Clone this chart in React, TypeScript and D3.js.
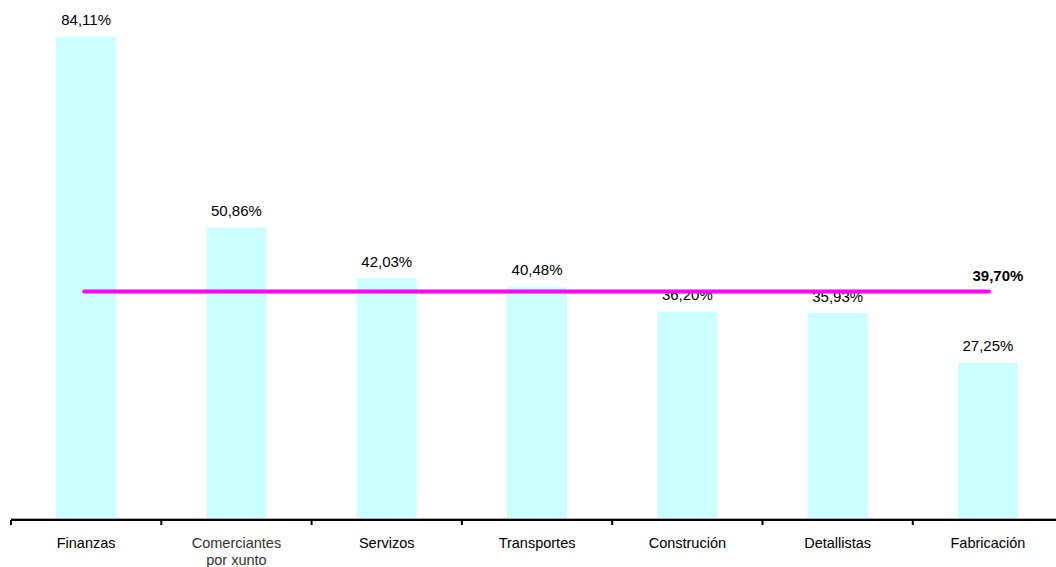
import React from "react";
import * as d3 from "d3";

const categories = ["Finanzas", "Comerciantes\npor xunto", "Servizos", "Transportes", "Construción", "Detallistas", "Fabricación"];
const values = [84.11, 50.86, 42.03, 40.48, 36.2, 35.93, 27.25];
const valueLabels = ["84,11%", "50,86%", "42,03%", "40,48%", "36,20%", "35,93%", "27,25%"];
const average = 39.7;
const averageLabel = "39,70%";

const W = 1056;
const H = 567;

export default function App() {
  const x = d3.scaleBand<string>().domain(categories).range([11, 11 + 7 * 150.3]).paddingInner(0.6).paddingOuter(0.3);
  const y = d3.scaleLinear().domain([0, 90]).range([519, 3]);
  const step = x.step();
  const font = "'Liberation Sans', Arial, sans-serif";
  const firstC = (x(categories[0]) as number) + x.bandwidth() / 2;
  const lastC = (x(categories[6]) as number) + x.bandwidth() / 2;
  const avgY = y(average);
  return (
    <svg width={W} height={H} style={{ position: "absolute", left: 0, top: 0 }} fontFamily={font}>
      <rect width={W} height={H} fill="#fff" />
      {categories.map((c, i) => (
        <rect key={c} x={x(c)} y={y(values[i])} width={x.bandwidth()} height={y(0) - y(values[i])} fill="#CCFFFF" />
      ))}
      <line x1={11} x2={W} y1={518.5} y2={518.5} stroke="#aaa" strokeWidth={1} />
      <line x1={11} x2={W} y1={520} y2={520} stroke="#000" strokeWidth={2} />
      {d3.range(7).map((k) => {
        const tx = 11 + k * step;
        return <line key={k} x1={tx} x2={tx} y1={520} y2={525} stroke="#000" strokeWidth={2} />;
      })}
      {categories.map((c, i) => {
        const cx = (x(c) as number) + x.bandwidth() / 2;
        const lines = c.split("\n");
        return (
          <text key={c} x={cx} y={548} textAnchor="middle" fontSize={14.5} fill={i === 1 ? "#333" : "#000"}>
            {lines.map((l, j) => (
              <tspan key={j} x={cx} dy={j === 0 ? 0 : 17}>{l}</tspan>
            ))}
          </text>
        );
      })}
      {categories.map((c, i) => (
        <text key={c} x={(x(c) as number) + x.bandwidth() / 2} y={y(values[i]) - 11.5} textAnchor="middle" fontSize={15} fill="#000">
          {valueLabels[i]}
        </text>
      ))}
      <line x1={firstC - 2} x2={lastC + 1} y1={avgY} y2={avgY} stroke="#FF00FF" strokeWidth={4} strokeLinecap="round" />
      <text x={lastC + 10} y={avgY - 10} textAnchor="middle" fontSize={15} fontWeight="bold" fill="#000">
        {averageLabel}
      </text>
    </svg>
  );
}
